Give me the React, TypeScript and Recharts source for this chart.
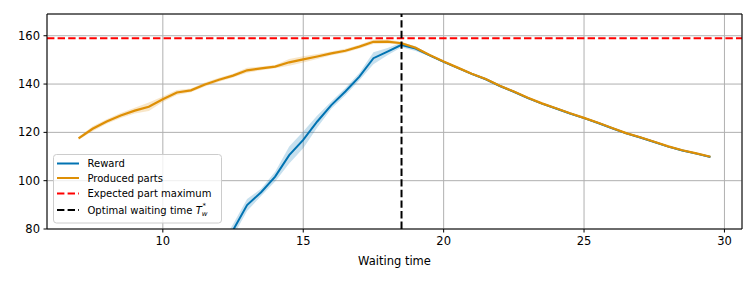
import React from 'react';
import {
  ComposedChart,
  Line,
  Area,
  XAxis,
  YAxis,
  CartesianGrid,
  ReferenceLine,
} from 'recharts';

// waiting time samples
const xs = [
  7, 7.5, 8, 8.5, 9, 9.5, 10, 10.5, 11, 11.5, 12, 12.5, 13, 13.5, 14, 14.5,
  15, 15.5, 16, 16.5, 17, 17.5, 18, 18.5, 19, 19.5, 20, 20.5, 21, 21.5, 22,
  22.5, 23, 23.5, 24, 24.5, 25, 25.5, 26, 26.5, 27, 27.5, 28, 28.5, 29, 29.5,
];

const partsMean = [
  117.5, 121.5, 124.5, 127, 129, 130.6, 133.7, 136.5, 137.4, 139.8, 141.8,
  143.5, 145.7, 146.5, 147.2, 149.0, 150.2, 151.4, 152.7, 153.8, 155.5, 157.5,
  157.6, 156.9, 155.0, 152.0, 149.3, 146.8, 144.3, 142.1, 139.3, 136.9, 134.3,
  132.0, 130.0, 127.9, 126.0, 124.0, 121.8, 119.7, 118.0, 116.1, 114.2, 112.6,
  111.3, 109.9,
];

const partsStd = [
  0.6, 1.0, 0.9, 1.0, 1.2, 1.8, 1.1, 1.0, 0.8, 0.8, 0.8, 0.8, 1.0, 0.8, 0.7,
  1.4, 1.3, 1.0, 0.8, 0.8, 0.8, 0.9, 0.8, 0.6, 0.5, 0.4, 0.4, 0.4, 0.4, 0.4,
  0.4, 0.4, 0.4, 0.4, 0.4, 0.4, 0.4, 0.4, 0.4, 0.4, 0.4, 0.4, 0.4, 0.4, 0.4,
  0.4,
];

const rewardMean = [
  null, null, null, null, null, null, null, null, null, null, 70, 79.5, 89.9,
  95.2, 101.7, 110.6, 116.9, 124.5, 131.3, 136.9, 143.1, 150.7, 153.4, 156.2,
  154.7, 151.9, 149.2, 146.7, 144.2, 142.0, 139.2, 136.8, 134.2, 131.9, 129.9,
  127.8, 125.9, 123.9, 121.7, 119.6, 117.9, 116.0, 114.1, 112.5, 111.2, 109.8,
];

const rewardStd = [
  null, null, null, null, null, null, null, null, null, null, 2.5, 2.5, 2.5,
  1.5, 2.0, 3.5, 3.5, 2.5, 1.5, 1.5, 1.5, 2.5, 1.5, 1.0, 1.0, 0.4, 0.4, 0.4,
  0.4, 0.4, 0.4, 0.4, 0.4, 0.4, 0.4, 0.4, 0.4, 0.4, 0.4, 0.4, 0.4, 0.4, 0.4,
  0.4, 0.4, 0.4,
];

const xTicks = [10, 15, 20, 25, 30];
const yTicks = [80, 100, 120, 140, 160];
const partMaximum = 159;
const optimalWaitingTime = 18.5;

const BLUE = '#0173B2';
const ORANGE = '#DE8F05';
const FONT = 'DejaVu Sans, sans-serif';

const data = xs.map((x, i) => ({
  x,
  parts: partsMean[i],
  partsBand: [partsMean[i] - partsStd[i], partsMean[i] + partsStd[i]],
  reward: rewardMean[i],
  rewardBand:
    rewardMean[i] == null
      ? null
      : [rewardMean[i]! - rewardStd[i]!, rewardMean[i]! + rewardStd[i]!],
}));

const LegendBox = () => {
  const rows = [
    { label: 'Reward', color: BLUE, dash: undefined },
    { label: 'Produced parts', color: ORANGE, dash: undefined },
    { label: 'Expected part maximum', color: '#ff0000', dash: '7.4 3.2' },
    { label: 'Optimal waiting time ', color: '#000', dash: '7.4 3.2' },
  ];
  const ys = [9.5, 24, 39.5, 56];
  return (
    <svg
      width={170}
      height={70}
      style={{ position: 'absolute', left: 45, top: 146, overflow: 'visible' }}
    >
      <rect
        x={0.5}
        y={0.5}
        width={168}
        height={68.5}
        rx={3}
        fill="rgba(255,255,255,0.8)"
        stroke="#cccccc"
      />
      {rows.map((r, i) => (
        <g key={r.label}>
          <line
            x1={4}
            x2={26}
            y1={ys[i]}
            y2={ys[i]}
            stroke={r.color}
            strokeWidth={2}
            strokeDasharray={r.dash}
          />
          <text
            x={34.5}
            y={ys[i] + 3.6}
            fontSize={10}
            fontFamily={FONT}
            fill="#000"
          >
            {r.label}
            {i === 3 && (
              <>
                <tspan fontStyle="italic">T</tspan>
                <tspan fontStyle="italic" fontSize={7} dy={2.5}>
                  w
                </tspan>
                <tspan fontSize={7} dx={-5} dy={-8}>
                  *
                </tspan>
              </>
            )}
          </text>
        </g>
      ))}
    </svg>
  );
};

export default function App() {
  return (
    <div style={{ position: 'relative', width: 740, height: 268 }}>
      <ComposedChart
        width={740}
        height={268}
        data={data}
        margin={{ top: 6, right: 6, bottom: 0, left: 0 }}
      >
        <CartesianGrid stroke="#b0b0b0" strokeWidth={1} />
        <XAxis
          dataKey="x"
          type="number"
          domain={[5.875, 30.625]}
          ticks={xTicks}
          interval={0}
          height={47}
          tickSize={3.5}
          tickMargin={4}
          stroke="#000"
          tick={{ fill: '#000', fontSize: 11.5, fontFamily: FONT }}
        />
        <YAxis
          type="number"
          domain={[80, 169]}
          ticks={yTicks}
          allowDataOverflow
          width={39}
          tickSize={3.5}
          tickMargin={3.5}
          stroke="#000"
          tick={{ fill: '#000', fontSize: 11.5, fontFamily: FONT }}
        />
        <Area
          dataKey="rewardBand"
          type="linear"
          stroke="none"
          fill={BLUE}
          fillOpacity={0.22}
          isAnimationActive={false}
          connectNulls={false}
        />
        <Area
          dataKey="partsBand"
          type="linear"
          stroke="none"
          fill={ORANGE}
          fillOpacity={0.22}
          isAnimationActive={false}
        />
        <Line
          dataKey="reward"
          type="linear"
          stroke={BLUE}
          strokeWidth={2}
          dot={false}
          isAnimationActive={false}
        />
        <Line
          dataKey="parts"
          type="linear"
          stroke={ORANGE}
          strokeWidth={2.2}
          dot={false}
          isAnimationActive={false}
        />
        <ReferenceLine
          y={partMaximum}
          stroke="#ff0000"
          strokeWidth={2}
          strokeDasharray="7.4 3.2"
        />
        <ReferenceLine
          x={optimalWaitingTime}
          stroke="#000"
          strokeWidth={2}
          strokeDasharray="7.4 3.2"
        />
        <ReferenceLine y={169} stroke="#000" strokeWidth={1} />
        <ReferenceLine x={30.625} stroke="#000" strokeWidth={1} />
      </ComposedChart>
      <LegendBox />
      <div
        style={{
          position: 'absolute',
          left: 39,
          width: 695,
          top: 246,
          textAlign: 'center',
          fontSize: 11.5,
          fontFamily: FONT,
          color: '#000',
        }}
      >
        Waiting time
      </div>
    </div>
  );
}
